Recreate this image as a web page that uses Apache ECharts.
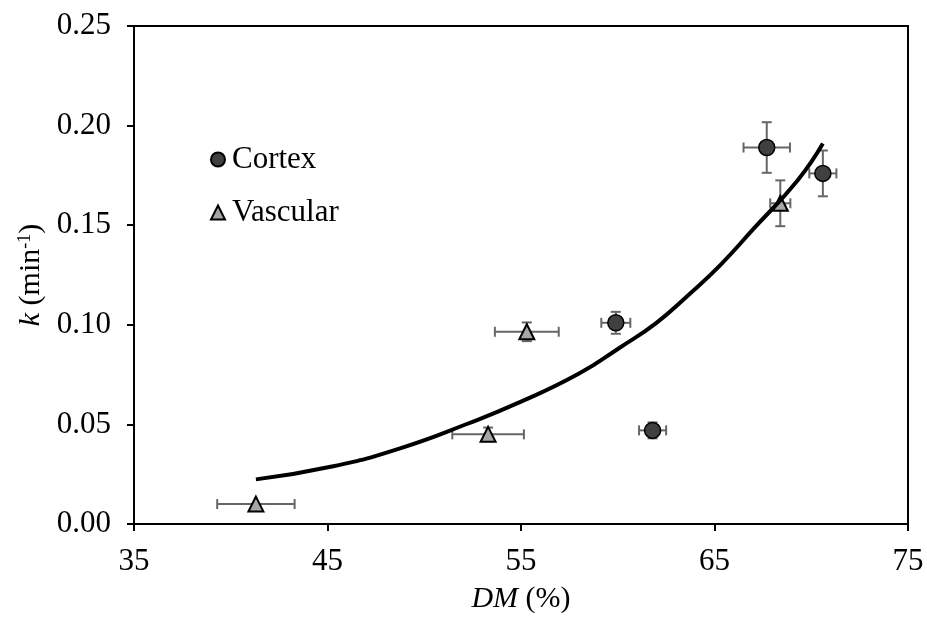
<!DOCTYPE html>
<html>
<head>
<meta charset="utf-8">
<script src="https://cdn.jsdelivr.net/npm/echarts@6/dist/echarts.min.js"></script>
<style>
  html, body { margin: 0; padding: 0; background: #fff; }
  #main { width: 927px; height: 621px; }
</style>
</head>
<body>
<div id="main"></div>
<script>
// values
const cortexX = [67.7, 70.6, 59.9, 61.8];
const cortexY = [0.189, 0.176, 0.101, 0.047];
const cortexXErr = [1.2, 0.7, 0.75, 0.7];
const cortexYErr = [0.0127, 0.0115, 0.0055, 0.004];

const vascularX = [41.3, 53.3, 55.3, 68.4];
const vascularY = [0.010, 0.045, 0.0965, 0.161];
const vascularXErr = [2.0, 1.85, 1.65, 0.52];
const vascularYErr = [0, 0.0034, 0.0047, 0.0115];

// trend curve, points
const fitX = [41.3, 45.3, 48.75, 52.2, 55.0, 58.0, 60.1, 62.0, 63.6, 65.3, 67.0, 69.3, 70.6];
const fitY = [0.0224, 0.029, 0.038, 0.0502, 0.0614, 0.0755, 0.0885, 0.101, 0.1145, 0.130, 0.148, 0.1726, 0.191];

const xTicks = [35, 45, 55, 65, 75];

const serif = 'Liberation Serif';

const pairs = (xs, ys) => xs.map((x, i) => [x, ys[i]]);
const errRows = (xs, ys, ex, ey) => xs.map((x, i) => [x, ys[i], ex[i], ey[i]]);

const errorBars = (params, api) => {
    const x = api.value(0), y = api.value(1), ex = api.value(2), ey = api.value(3);
    const l = api.coord([x - ex, y]);
    const r = api.coord([x + ex, y]);
    const t = api.coord([x, y + ey]);
    const b = api.coord([x, y - ey]);
    const cap = 5;
    const style = { stroke: '#666666', lineWidth: 2 };
    const children = [];
    if (ex > 0) {
        children.push({ type: 'line', shape: { x1: l[0], y1: l[1], x2: r[0], y2: r[1] }, style });
        children.push({ type: 'line', shape: { x1: l[0], y1: l[1] - cap, x2: l[0], y2: l[1] + cap }, style });
        children.push({ type: 'line', shape: { x1: r[0], y1: r[1] - cap, x2: r[0], y2: r[1] + cap }, style });
    }
    if (ey > 0) {
        children.push({ type: 'line', shape: { x1: t[0], y1: t[1], x2: b[0], y2: b[1] }, style });
        children.push({ type: 'line', shape: { x1: t[0] - cap, y1: t[1], x2: t[0] + cap, y2: t[1] }, style });
        children.push({ type: 'line', shape: { x1: b[0] - cap, y1: b[1], x2: b[0] + cap, y2: b[1] }, style });
    }
    return { type: 'group', children };
};

const chart = echarts.init(document.getElementById('main'));
chart.setOption({
    animation: false,
    backgroundColor: '#fff',
    textStyle: { fontFamily: serif, color: '#000' },
    grid: { left: 134, right: 19, top: 26, bottom: 97, show: true, borderColor: '#000', borderWidth: 2 },
    legend: {
        orient: 'vertical',
        left: 205,
        top: 139,
        itemGap: 22,
        itemWidth: 14,
        itemHeight: 14,
        data: ['Cortex', 'Vascular'],
        textStyle: { fontFamily: serif, fontSize: 31, color: '#000', padding: [0, 0, 0, 2] }
    },
    xAxis: {
        type: 'value',
        min: 35,
        max: 75,
        interval: 10,
        name: '{i|DM} (%)',
        nameLocation: 'middle',
        nameGap: 60,
        nameTextStyle: {
            fontFamily: serif, fontSize: 30, color: '#000',
            rich: { i: { fontFamily: serif, fontSize: 30, fontStyle: 'italic', color: '#000' } }
        },
        axisLine: { lineStyle: { color: '#000', width: 2 } },
        axisTick: { show: true, length: 7, lineStyle: { color: '#000', width: 2 } },
        axisLabel: {
            fontFamily: serif, fontSize: 31, color: '#000', margin: 22,
            formatter: v => xTicks.includes(v) ? String(v) : ''
        },
        splitLine: { show: false }
    },
    yAxis: {
        type: 'value',
        min: 0,
        max: 0.25,
        interval: 0.05,
        name: '{i|k} (min{s|-1})',
        nameLocation: 'middle',
        nameGap: 86,
        nameTextStyle: {
            fontFamily: serif, fontSize: 30, color: '#000',
            rich: {
                i: { fontFamily: serif, fontSize: 30, fontStyle: 'italic', color: '#000' },
                s: { fontFamily: serif, fontSize: 18, color: '#000', verticalAlign: 'top', padding: [0, 0, 10, 0] }
            }
        },
        axisLine: { lineStyle: { color: '#000', width: 2 } },
        axisTick: { show: true, length: 7, lineStyle: { color: '#000', width: 2 } },
        axisLabel: {
            fontFamily: serif, fontSize: 31, color: '#000', margin: 23,
            formatter: v => v.toFixed(2)
        },
        splitLine: { show: false }
    },
    series: [
        {
            type: 'custom',
            name: 'errCortex',
            renderItem: errorBars,
            data: errRows(cortexX, cortexY, cortexXErr, cortexYErr),
            z: 1,
            silent: true
        },
        {
            type: 'custom',
            name: 'errVascular',
            renderItem: errorBars,
            data: errRows(vascularX, vascularY, vascularXErr, vascularYErr),
            z: 1,
            silent: true
        },
        {
            name: 'Cortex',
            type: 'scatter',
            symbol: 'circle',
            symbolSize: 16,
            itemStyle: { color: '#404040', borderColor: '#000', borderWidth: 1.5, opacity: 1 },
            data: pairs(cortexX, cortexY),
            z: 2
        },
        {
            name: 'Vascular',
            type: 'scatter',
            symbol: 'triangle',
            symbolSize: 15,
            itemStyle: { color: '#a6a6a6', borderColor: '#000', borderWidth: 2, opacity: 1 },
            data: pairs(vascularX, vascularY),
            z: 2
        },
        {
            name: 'fit',
            type: 'line',
            smooth: 0.5,
            showSymbol: false,
            symbol: 'none',
            lineStyle: { color: '#000', width: 4 },
            data: pairs(fitX, fitY),
            z: 3
        }
    ]
});
</script>
</body>
</html>
